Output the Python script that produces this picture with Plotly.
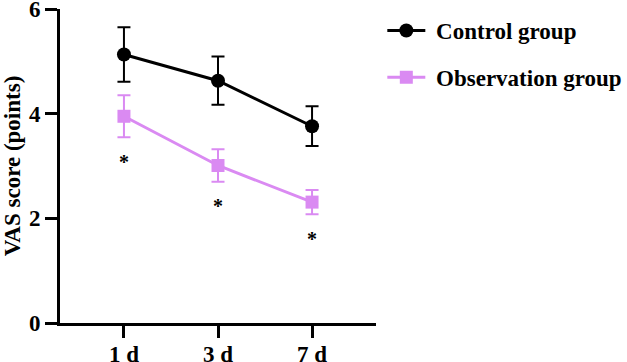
import plotly.graph_objects as go

days = ["1 d", "3 d", "7 d"]
control_mean = [5.13, 4.63, 3.76]
control_sd = [0.52, 0.46, 0.38]
obs_mean = [3.95, 3.01, 2.31]
obs_sd = [0.40, 0.31, 0.23]
sig_labels = ["*", "*", "*"]
y_ticks = [0, 2, 4, 6]

PINK = "#DA8AF2"
FONT = "Liberation Serif"

fig = go.Figure()
fig.add_trace(go.Scatter(
    x=days, y=control_mean, name="&nbsp;<b>Control group</b>", legendgroup="c",
    mode="lines+markers",
    line=dict(color="black", width=3),
    marker=dict(symbol="circle", size=14, color="black"),
    error_y=dict(type="data", array=control_sd, color="black", thickness=2, width=6.5),
))
fig.add_trace(go.Scatter(
    x=days, y=obs_mean, name="&nbsp;<b>Observation group</b>", legendgroup="o",
    mode="lines+markers",
    line=dict(color=PINK, width=3),
    marker=dict(symbol="square", size=13, color=PINK),
    error_y=dict(type="data", array=obs_sd, color=PINK, thickness=2, width=6.5),
))

for d, m, s, lab in zip(days, obs_mean, obs_sd, sig_labels):
    fig.add_annotation(x=d, y=m - s - 0.22, text="<b>" + lab + "</b>", showarrow=False,
                       yanchor="top", font=dict(family=FONT, size=20, color="black"))

# category labels under the x axis (placed by the x axis scale)
for d in days:
    fig.add_annotation(x=d, xref="x", y=0, yref="paper", yanchor="top", yshift=-17,
                       text="<b>" + d + "</b>", showarrow=False,
                       font=dict(family=FONT, size=23, color="black"))

fig.update_layout(
    width=627, height=362,
    margin=dict(l=60, r=251, t=9, b=39, autoexpand=False),
    paper_bgcolor="white", plot_bgcolor="white",
    font=dict(family=FONT, size=23, color="black"),
    showlegend=True,
    legend=dict(x=1.02, y=1.0, xanchor="left", yanchor="top", tracegroupgap=14, itemwidth=38,
                font=dict(family=FONT, size=23, color="black"), bgcolor="rgba(0,0,0,0)"),
    xaxis=dict(type="category", range=[-0.68, 2.68], showline=True, linecolor="black", linewidth=3,
               ticks="outside", ticklen=12, tickwidth=3, tickcolor="black", showgrid=False,
               zeroline=False, automargin=False, showticklabels=False,
               tickvals=days),
    yaxis=dict(range=[0, 6], showline=True, linecolor="black", linewidth=3,
               ticks="outside", ticklen=12, tickwidth=3, tickcolor="black", showgrid=False,
               zeroline=False, tickvals=y_ticks, ticktext=["<b>%d</b>" % v for v in y_ticks],
               tickfont=dict(family=FONT, size=23), ticklabeloverflow="allow", automargin=False,
               title=dict(text="<b>VAS score (points)</b>", font=dict(family=FONT, size=23), standoff=8)),
)

fig.write_html("out.html")
